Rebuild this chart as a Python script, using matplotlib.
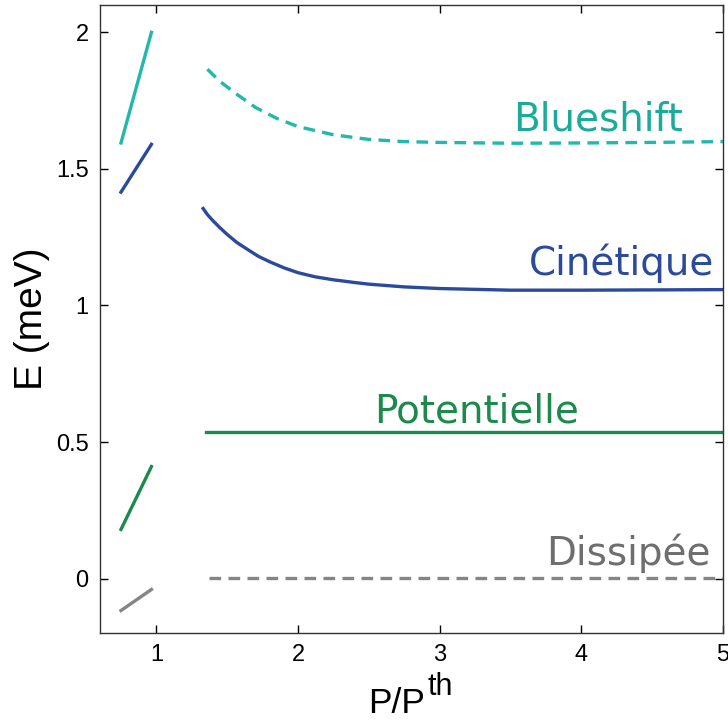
import numpy as np
import matplotlib.pyplot as plt

plt.rcParams['font.family'] = ['Liberation Sans', 'DejaVu Sans']

# colours
c_blue = '#22b8ab'
c_kin = '#2c4a9c'
c_pot = '#1b8a4c'
c_dis = '#858585'

# below threshold (short segments)
x_low = [0.75, 0.965]
blue_low = [1.595, 2.0]
kin_low = [1.415, 1.59]
pot_low = [0.18, 0.41]
dis_low = [-0.117, -0.04]

# above threshold
x_kin = [1.33, 1.36, 1.4, 1.45, 1.5, 1.57, 1.65, 1.72, 1.8, 1.9, 2.0, 2.12, 2.25, 2.4,
         2.5, 2.75, 3.0, 3.5, 4.0, 4.5, 5.0]
kin_high = [1.355, 1.333, 1.31, 1.284, 1.26, 1.23, 1.203, 1.18, 1.16, 1.138, 1.12, 1.105,
            1.094, 1.084, 1.078, 1.068, 1.062, 1.056, 1.056, 1.057, 1.058]
x_blue = [1.36, 1.45, 1.55, 1.7, 1.85, 2.0, 2.25, 2.5, 2.75, 3.0, 3.5, 4.0, 4.5, 5.0]
blue_high = [1.865, 1.82, 1.78, 1.725, 1.685, 1.655, 1.625, 1.608, 1.60, 1.597, 1.594,
             1.595, 1.597, 1.60]
x_pot = [1.35, 5.0]
pot_high = [0.535, 0.535]
x_dis = [1.37, 5.0]
dis_high = [0.003, 0.003]

fig = plt.figure(figsize=(7.28, 7.22), dpi=100)
ax = fig.add_axes([0.137, 0.123, 0.856, 0.870])

lw = 2.4
dash = (0, (3.5, 2.2))
ax.plot(x_low, blue_low, color=c_blue, lw=lw)
ax.plot(x_low, kin_low, color=c_kin, lw=lw)
ax.plot(x_low, pot_low, color=c_pot, lw=lw)
ax.plot(x_low, dis_low, color=c_dis, lw=lw)

ax.plot(x_blue, blue_high, color=c_blue, lw=lw, linestyle=dash)
ax.plot(x_kin, kin_high, color=c_kin, lw=lw)
ax.plot(x_pot, pot_high, color=c_pot, lw=lw)
ax.plot(x_dis, dis_high, color=c_dis, lw=lw, linestyle=dash)

# labels on the curves
tf = dict(family='DejaVu Sans', fontsize=28, va='baseline')
ax.text(4.716, 1.642, 'Blueshift', color='#1aab9a', ha='right', **tf)
ax.text(4.936, 1.111, 'Cinétique', color=c_kin, ha='right', **tf)
ax.text(2.539, 0.570, 'Potentielle', color=c_pot, ha='left', **tf)
ax.text(4.915, 0.051, 'Dissipée', color='#6e6e6e', ha='right', **tf)

ax.set_xlim(0.6, 5)
ax.set_ylim(-0.2, 2.1)
ax.set_xticks([1, 2, 3, 4, 5])
ax.set_xticklabels(['1', '2', '3', '4', '5'])
ax.set_yticks([0, 0.5, 1, 1.5, 2])
ax.set_yticklabels(['0', '0.5', '1', '1.5', '2'])
ax.tick_params(direction='in', length=6, width=1, labelsize=17,
               top=True, right=True, pad=8)

# x label with a full-size "th" exponent, as in the original
fig.text(425 / 728, 1 - 713 / 722, 'P/P', fontsize=25.5, ha='right', va='baseline')
fig.text(427 / 728, 1 - 695 / 722, 'th', fontsize=22, ha='left', va='baseline')
ax.set_ylabel('E (meV)', fontsize=28, labelpad=4)

for s in ax.spines.values():
    s.set_linewidth(1.0)
    s.set_color('#333333')

fig.savefig('out.png', dpi=100)
